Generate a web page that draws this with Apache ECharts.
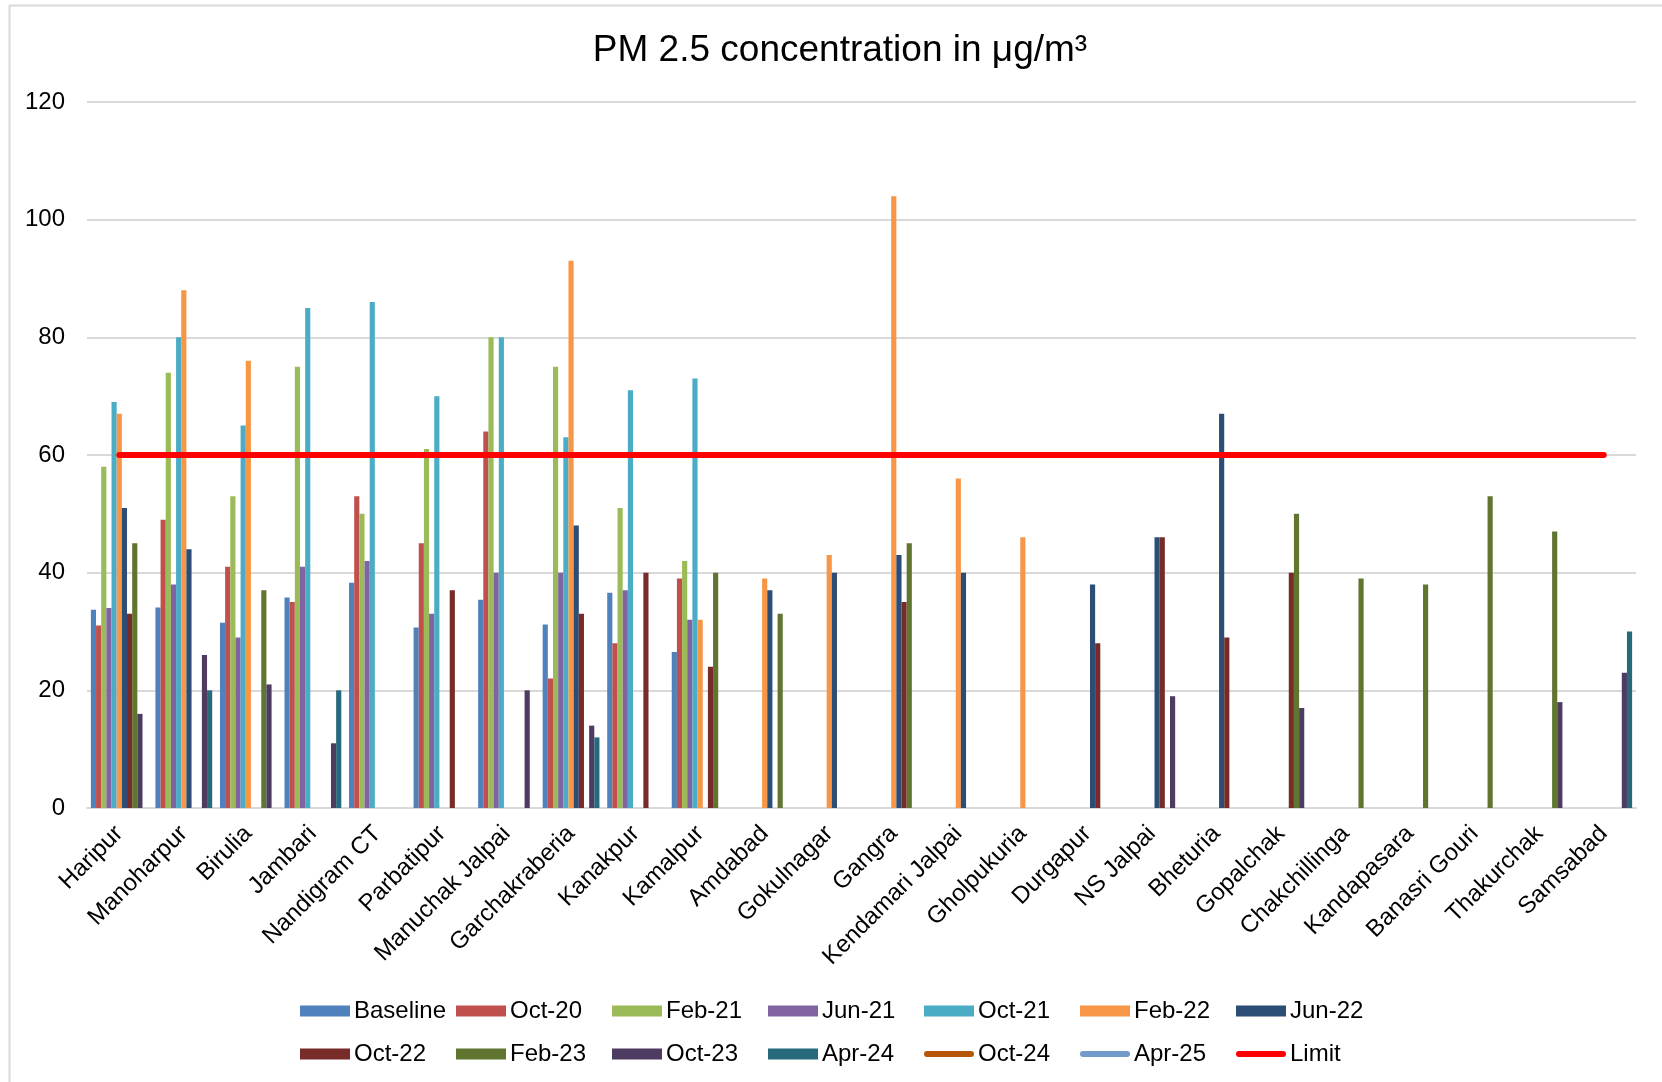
<!DOCTYPE html>
<html>
<head>
<meta charset="utf-8">
<title>PM 2.5 concentration</title>
<script src="https://cdn.jsdelivr.net/npm/echarts@6/dist/echarts.min.js"></script>
<style>
  html, body { margin: 0; padding: 0; background: #fff; }
  #chart { width: 1662px; height: 1082px; }
</style>
</head>
<body>
<div id="chart"></div>
<script>
// sites along x axis
var sites = ['Haripur', 'Manoharpur', 'Birulia', 'Jambari', 'Nandigram CT', 'Parbatipur',
  'Manuchak Jalpai', 'Garchakraberia', 'Kanakpur', 'Kamalpur', 'Amdabad', 'Gokulnagar',
  'Gangra', 'Kendamari Jalpai', 'Gholpukuria', 'Durgapur', 'NS Jalpai', 'Bheturia',
  'Gopalchak', 'Chakchillinga', 'Kandapasara', 'Banasri Gouri', 'Thakurchak', 'Samsabad'];

var yTicks = [0, 20, 40, 60, 80, 100, 120];

var baseline = [33.7, 34.1, 31.5, 35.8, 38.3, 30.7, 35.4, 31.2, 36.6, 26.5, null, null, null, null, null, null, null, null, null, null, null, null, null, null];
var oct20 = [31, 49, 41, 35, 53, 45, 64, 22, 28, 39, null, null, null, null, null, null, null, null, null, null, null, null, null, null];
var feb21 = [58, 74, 53, 75, 50, 61, 80, 75, 51, 42, null, null, null, null, null, null, null, null, null, null, null, null, null, null];
var jun21 = [34, 38, 29, 41, 42, 33, 40, 40, 37, 32, null, null, null, null, null, null, null, null, null, null, null, null, null, null];
var oct21 = [69, 80, 65, 85, 86, 70, 80, 63, 71, 73, null, null, null, null, null, null, null, null, null, null, null, null, null, null];
var feb22 = [67, 88, 76, null, null, null, null, 93, null, 32, 39, 43, 104, 56, 46, null, null, null, null, null, null, null, null, null];
var jun22 = [51, 44, null, null, null, null, null, 48, null, null, 37, 40, 43, 40, null, 38, 46, 67, null, null, null, null, null, null];
var oct22 = [33, null, null, null, null, 37, null, 33, 40, 24, null, null, 35, null, null, 28, 46, 29, 40, null, null, null, null, null];
var feb23 = [45, null, 37, null, null, null, null, null, null, 40, 33, null, 45, null, null, null, null, null, 50, 39, 38, 53, 47, null];
var oct23 = [16, 26, 21, 11, null, null, 20, 14, null, null, null, null, null, null, null, null, 19, null, 17, null, null, null, 18, 23];
var apr24 = [null, 20, null, 20, null, null, null, 12, null, null, null, null, null, null, null, null, null, null, null, null, null, null, null, 30];
var oct24 = [];
var apr25 = [];
var limit = [60, 60, 60, 60, 60, 60, 60, 60, 60, 60, 60, 60, 60, 60, 60, 60, 60, 60, 60, 60, 60, 60, 60, 60];

var barNames = ['Baseline', 'Oct-20', 'Feb-21', 'Jun-21', 'Oct-21', 'Feb-22', 'Jun-22', 'Oct-22', 'Feb-23', 'Oct-23', 'Apr-24'];
var barData = [baseline, oct20, feb21, jun21, oct21, feb22, jun22, oct22, feb23, oct23, apr24];
var barColors = ['#4F81BD', '#C0504D', '#9BBB59', '#8064A2', '#4BACC6', '#F79646', '#2C4D75', '#772C2A', '#5F7530', '#4D3B62', '#276A7C'];

var legendRows = [
  ['Baseline', 'Oct-20', 'Feb-21', 'Jun-21', 'Oct-21', 'Feb-22', 'Jun-22'],
  ['Oct-22', 'Feb-23', 'Oct-23', 'Apr-24', 'Oct-24', 'Apr-25', 'Limit']
];
var lineNames = ['Oct-24', 'Apr-25', 'Limit'];

var FONT = "'Liberation Sans', Arial, sans-serif";

var series = [];
for (var i = 0; i < barNames.length; i++) {
  series.push({
    name: barNames[i],
    type: 'bar',
    data: barData[i],
    barGap: '0%',
    barCategoryGap: '12%',
    itemStyle: { color: barColors[i] }
  });
}
series.push({ name: 'Oct-24', type: 'line', data: oct24, symbol: 'none', lineStyle: { color: '#B65708', width: 5, cap: 'round' }, itemStyle: { color: '#B65708' } });
series.push({ name: 'Apr-25', type: 'line', data: apr25, symbol: 'none', lineStyle: { color: '#729ACA', width: 5, cap: 'round' }, itemStyle: { color: '#729ACA' } });
series.push({ name: 'Limit', type: 'line', data: limit, symbol: 'none', z: 5, lineStyle: { color: '#FF0000', width: 6, cap: 'round' }, itemStyle: { color: '#FF0000' } });

// one legend per entry so the columns keep Excel's even spacing
var capsule = 'path://M3,0 L47,0 A3,3 0 0 1 47,6 L3,6 A3,3 0 0 1 3,0 Z';
var legends = [];
legendRows.forEach(function(row, r) {
  row.forEach(function(name, k) {
    var isLine = lineNames.indexOf(name) >= 0;
    legends.push({
      orient: 'horizontal',
      padding: 0,
      left: 300 + k * 156,
      top: r === 0 ? 999 : 1042,
      itemWidth: 50,
      itemHeight: isLine ? 6 : 11,
      icon: isLine ? capsule : 'rect',
      data: [name],
      textStyle: { fontFamily: FONT, fontSize: 24, color: '#000', padding: [0, 0, 0, -1] }
    });
  });
});

var chart = echarts.init(document.getElementById('chart'));
chart.setOption({
  animation: false,
  backgroundColor: '#fff',
  textStyle: { fontFamily: FONT },
  title: {
    text: 'PM 2.5 concentration in \u03bcg/m\u00b3',
    left: 835,
    textAlign: 'center',
    top: 27,
    textStyle: { fontFamily: FONT, fontSize: 37, fontWeight: 'normal', color: '#000' }
  },
  graphic: [{
    type: 'rect',
    shape: { x: 9.5, y: 5.5, width: 1700, height: 1100 },
    style: { fill: 'none', stroke: '#D9D9D9', lineWidth: 2 },
    silent: true
  }],
  legend: legends,
  grid: { left: 87, right: 26, top: 102, bottom: 274, containLabel: false },
  xAxis: {
    type: 'category',
    data: sites,
    boundaryGap: true,
    axisTick: { show: false },
    axisLine: { lineStyle: { color: '#D9D9D9', width: 2 } },
    axisLabel: { rotate: 45, margin: 22, interval: 0, fontFamily: FONT, fontSize: 24, color: '#000' }
  },
  yAxis: {
    type: 'value',
    min: yTicks[0],
    max: yTicks[yTicks.length - 1],
    interval: 20,
    axisLine: { show: false },
    axisTick: { show: false },
    splitLine: { lineStyle: { color: '#D9D9D9', width: 2 } },
    axisLabel: { margin: 22, fontFamily: FONT, fontSize: 24, color: '#000' }
  },
  series: series
});
</script>
</body>
</html>
